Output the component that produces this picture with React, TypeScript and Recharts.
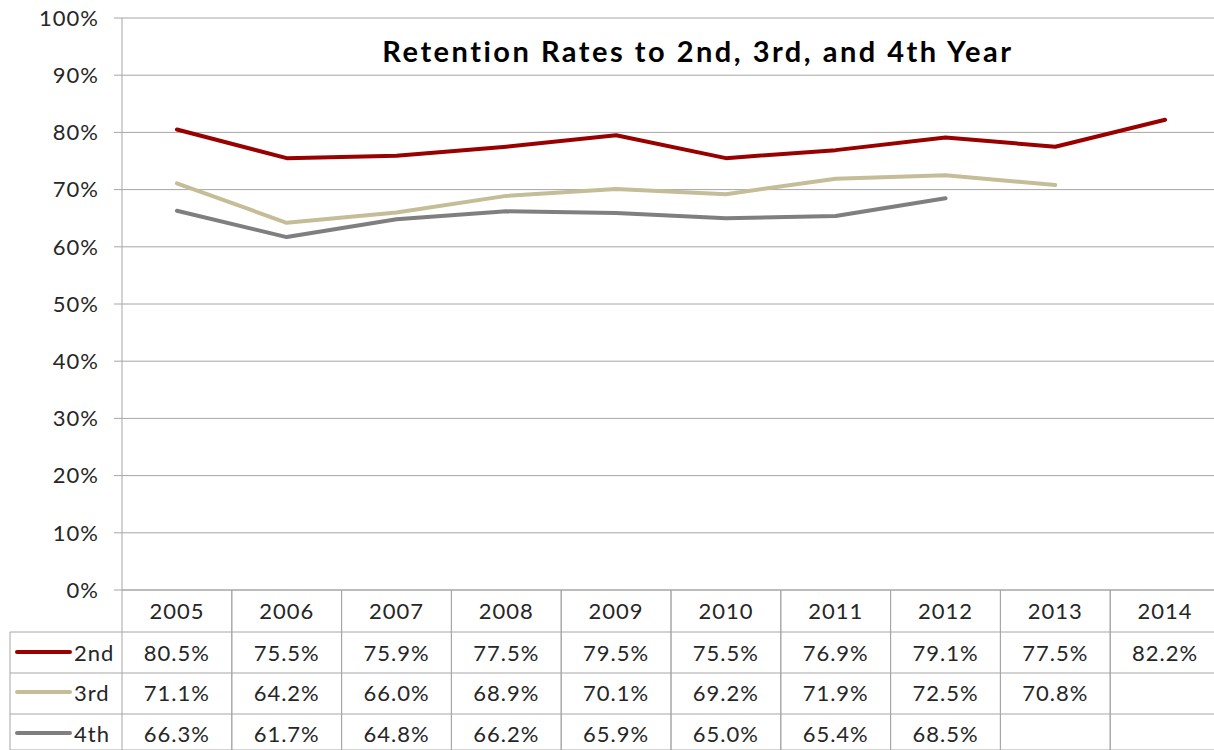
import React from "react";
import { CartesianGrid, Line, LineChart, XAxis, YAxis } from "recharts";

const YEARS = ["2005", "2006", "2007", "2008", "2009", "2010", "2011", "2012", "2013", "2014"];
const SECOND = [80.5, 75.5, 75.9, 77.5, 79.5, 75.5, 76.9, 79.1, 77.5, 82.2];
const THIRD = [71.1, 64.2, 66.0, 68.9, 70.1, 69.2, 71.9, 72.5, 70.8, null];
const FOURTH = [66.3, 61.7, 64.8, 66.2, 65.9, 65.0, 65.4, 68.5, null, null];
const Y_TICKS = [0, 10, 20, 30, 40, 50, 60, 70, 80, 90, 100];

const SERIES = [
  { key: "second", name: "2nd", color: "#990000", values: SECOND },
  { key: "third", name: "3rd", color: "#c4bd97", values: THIRD },
  { key: "fourth", name: "4th", color: "#7f7f7f", values: FOURTH },
];

const data = YEARS.map((year, i) => ({
  year,
  second: SECOND[i],
  third: THIRD[i],
  fourth: FOURTH[i],
}));

const FONT = "Lato, 'Noto Sans', sans-serif";
const GRID = "#a6a6a6";
const TEXT = "#262626";
const FS = 22;
const LS = 1;

const CHART_W = 1230;
const CHART_H = 750;
const LEFT = 122;
const RIGHT_MARGIN = 10;
const TOP = 18;
const TABLE_H = 160;
const COL_W = (CHART_W - LEFT - RIGHT_MARGIN) / YEARS.length;
const ROW_Y = [20, 62, 102, 143];
const ROW_LINES = [42, 83, 124, 160];
const LEGEND_LEFT = 10;

function TableTick(props: any) {
  const { x, y, index } = props;
  const row = data[index];
  const x0 = x - COL_W / 2;
  const x1 = x + COL_W / 2;
  const textProps = {
    textAnchor: "middle" as const,
    dominantBaseline: "central" as const,
    fill: TEXT,
    fontSize: FS,
    fontFamily: FONT,
    letterSpacing: LS,
  };
  return (
    <g>
      <line x1={x0} x2={x0} y1={y} y2={y + TABLE_H} stroke={GRID} />
      <line x1={x1} x2={x1} y1={y} y2={y + TABLE_H} stroke={GRID} />
      {ROW_LINES.map((d) => (
        <line key={d} x1={x0} x2={x1} y1={y + d} y2={y + d} stroke={GRID} />
      ))}
      <text x={x} y={y + ROW_Y[0]} {...textProps}>
        {row.year}
      </text>
      {SERIES.map((s, i) => {
        const v = s.values[index];
        if (v == null) return null;
        return (
          <text key={s.key} x={x} y={y + ROW_Y[i + 1]} {...textProps}>
            {v.toFixed(1)}%
          </text>
        );
      })}
      {index === 0 && (
        <g>
          <line x1={LEGEND_LEFT} x2={LEGEND_LEFT} y1={y + ROW_LINES[0]} y2={y + TABLE_H} stroke={GRID} />
          {ROW_LINES.map((d) => (
            <line key={d} x1={LEGEND_LEFT} x2={x0} y1={y + d} y2={y + d} stroke={GRID} />
          ))}
          {SERIES.map((s, i) => (
            <g key={s.key}>
              <line
                x1={LEGEND_LEFT + 7}
                x2={LEGEND_LEFT + 60}
                y1={y + ROW_Y[i + 1]}
                y2={y + ROW_Y[i + 1]}
                stroke={s.color}
                strokeWidth={4}
                strokeLinecap="round"
              />
              <text
                x={LEGEND_LEFT + 64}
                y={y + ROW_Y[i + 1]}
                dominantBaseline="central"
                fill={TEXT}
                fontSize={FS}
                fontFamily={FONT}
                letterSpacing={LS}
              >
                {s.name}
              </text>
            </g>
          ))}
        </g>
      )}
    </g>
  );
}

export default function App() {
  return (
    <div
      style={{
        position: "absolute",
        left: 0,
        top: 0,
        width: 1214,
        height: 750,
        overflow: "hidden",
        background: "#fff",
      }}
    >
      <LineChart
        width={CHART_W}
        height={CHART_H}
        data={data}
        margin={{ top: TOP, right: RIGHT_MARGIN, bottom: 0, left: 0 }}
      >
        <CartesianGrid vertical={false} stroke={GRID} strokeWidth={1} />
        <XAxis
          dataKey="year"
          height={TABLE_H}
          padding={{ left: COL_W / 2, right: COL_W / 2 }}
          axisLine={{ stroke: GRID }}
          tickLine={false}
          tickSize={0}
          tickMargin={0}
          interval={0}
          tick={<TableTick />}
        />
        <YAxis
          width={LEFT}
          domain={[0, 100]}
          ticks={Y_TICKS}
          tickFormatter={(v) => `${v}%`}
          axisLine={{ stroke: GRID }}
          tickLine={{ stroke: GRID }}
          tickSize={8}
          tickMargin={15}
          tick={{ fill: TEXT, fontSize: FS, fontFamily: FONT, letterSpacing: LS }}
          interval={0}
        />
        {SERIES.map((s) => (
          <Line
            key={s.key}
            type="linear"
            dataKey={s.key}
            name={s.name}
            stroke={s.color}
            strokeWidth={4}
            strokeLinejoin="round"
            strokeLinecap="round"
            dot={false}
            activeDot={false}
            isAnimationActive={false}
          />
        ))}
      </LineChart>
      <div
        style={{
          position: "absolute",
          left: 381,
          top: 33,
          width: 634,
          textAlign: "center",
          fontFamily: FONT,
          fontWeight: 700,
          fontSize: 29,
          letterSpacing: 2.5,
          color: "#000",
          whiteSpace: "nowrap",
        }}
      >
        Retention Rates to 2nd, 3rd, and 4th Year
      </div>
    </div>
  );
}
